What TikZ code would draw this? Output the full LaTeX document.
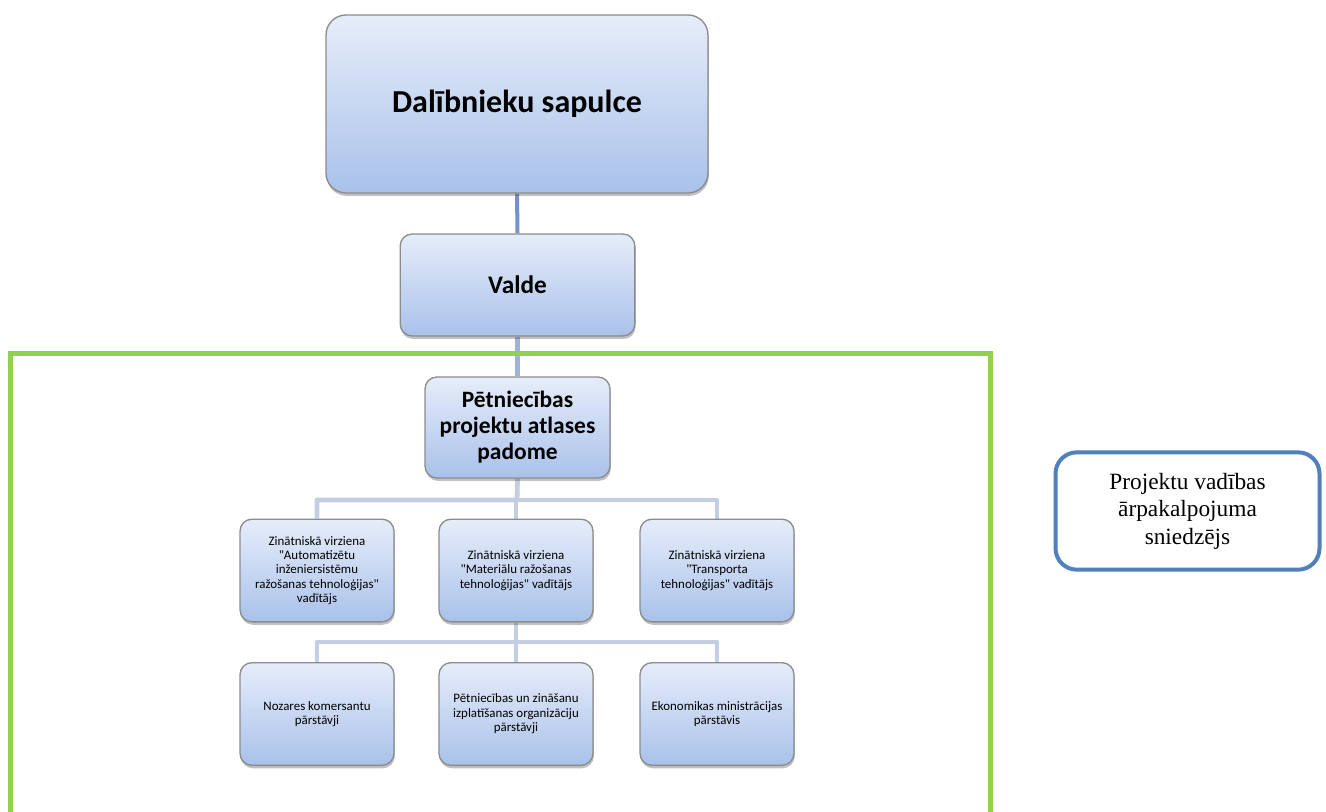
\documentclass[tikz,border=0pt]{standalone}
\usepackage{fontspec}
\setmainfont{Carlito}[Ligatures=TeXOff]
\newfontfamily\timesf{Liberation Serif}
\usetikzlibrary{shadows,backgrounds}
\definecolor{boxtop}{HTML}{E6EDF9}
\definecolor{boxbot}{HTML}{A9C1EA}
\definecolor{boxline}{HTML}{8C8C8C}
\definecolor{linkA}{HTML}{7394C9}
\definecolor{linkB}{HTML}{A0B2D7}
\definecolor{treeline}{HTML}{C3CDE3}
\definecolor{greenframe}{HTML}{92D050}
\definecolor{bluebox}{HTML}{5080BE}
\tikzset{
  orgbox/.style={draw=boxline, line width=1pt, rounded corners=9pt,
    top color=boxtop, bottom color=boxbot, align=center, inner sep=2pt,
    drop shadow={shadow xshift=0.6pt, shadow yshift=-2.2pt, opacity=0.35, fill=black!70}},
  smalltext/.style={font=\fontsize{9.7}{10.8}\selectfont},
  rowbox/.style={orgbox, smalltext, minimum width=115.5pt, minimum height=77pt},
  tree/.style={draw=treeline, line width=3.6pt, line join=round},
}
\begin{document}
\begin{tikzpicture}[x=0.75pt,y=-0.75pt]
\useasboundingbox (0,0) rectangle (1326,812);

% green frame
\draw[greenframe, line width=3.75pt, line join=miter]
  (10.5,815) -- (10.5,354) -- (990,354) -- (990,815);

\node[orgbox, rounded corners=15pt, minimum width=286.5pt, minimum height=133.5pt,
  font=\fontsize{24}{28}\selectfont\bfseries] (top) at (517,104) {Dalībnieku sapulce};
\node[orgbox, minimum width=176pt, minimum height=76.5pt,
  font=\fontsize{19}{22}\selectfont\bfseries] (valde) at (517.5,285) {Valde};
\node[orgbox, minimum width=138.75pt, minimum height=75.75pt,
  font=\fontsize{17.6}{19.5}\selectfont\bfseries] (pet) at (517.5,427.5)
  {Pētniecības\\projektu atlases\\padome};

\node[rowbox] (z1) at (317,570.5) {Zinātniskā virziena\\"Automatizētu\\inženiersistēmu\\ražošanas tehnoloģijas"\\vadītājs};
\node[rowbox] (z2) at (516,570.5) {Zinātniskā virziena\\"Materiālu ražošanas\\tehnoloģijas" vadītājs};
\node[rowbox] (z3) at (717,570.5) {Zinātniskā virziena\\"Transporta\\tehnoloģijas" vadītājs};

\node[rowbox] (p1) at (317,714) {Nozares komersantu\\pārstāvji};
\node[rowbox] (p2) at (516,714) {Pētniecības un zināšanu\\izplatīšanas organizāciju\\pārstāvji};
\node[rowbox] (p3) at (717,714) {Ekonomikas ministrācijas\\pārstāvis};

\node[draw=bluebox, line width=3pt, rounded corners=16pt, align=center,
  minimum width=198pt, minimum height=88pt,
  font=\timesf\fontsize{17.5}{20.6}\selectfont] (ext) at (1187.5,511)
  {Projektu vadības\\ārpakalpojuma\\sniedzējs};

\coordinate (j1) at (517,500);
\coordinate (j2) at (516,642);
\begin{scope}[on background layer]
\draw[linkA, line width=3pt] (top.south) -- (valde.north);
\draw[linkB, line width=3.6pt] (valde.south) -- (pet.north);
\draw[tree] (pet.south) -- (j1) -| (z1.north);
\draw[tree] (j1) -| (z3.north);
\draw[tree] (j1) -| (z2.north);
\draw[tree] (z2.south) -- (j2) -| (p1.north);
\draw[tree] (j2) -| (p3.north);
\draw[tree] (j2) -- (p2.north);
\end{scope}
\end{tikzpicture}
\end{document}
